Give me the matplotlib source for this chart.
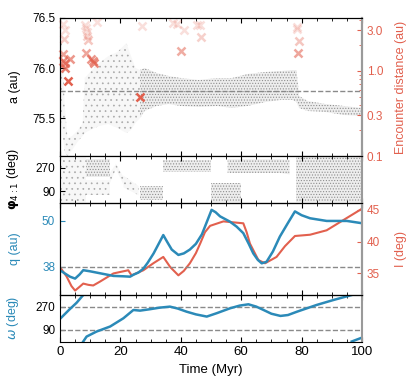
import matplotlib
matplotlib.use('Agg')
import matplotlib.pyplot as plt
from matplotlib.ticker import MultipleLocator, NullFormatter, FixedLocator
import numpy as np

plt.rcParams['font.family'] = ['Liberation Sans', 'DejaVu Sans']
plt.rcParams['hatch.linewidth'] = 0.5

blue = '#2b8ab8'
red = '#e2604e'
grey = '#8a8a8a'

#------------------------------
# data
#------------------------------

# semi-major axis cloud (envelope)
a_t  = [0, 0.8, 1.6, 2.5, 4, 6, 7.5, 8.2, 10, 13, 16, 19, 22, 23.5, 25, 26.5, 28, 32, 36, 40, 46, 52, 57, 62, 68, 73, 77, 78.3, 79.2, 82, 88, 94, 100]
a_lo = [75.75, 75.35, 75.15, 75.12, 75.18, 75.27, 75.32, 75.35, 75.38, 75.42, 75.44, 75.4, 75.35, 75.38, 75.45, 75.5, 75.57, 75.62, 75.64, 75.62, 75.61, 75.62, 75.6, 75.62, 75.66, 75.68, 75.68, 75.66, 75.6, 75.57, 75.56, 75.53, 75.52]
a_hi = [76.4, 76.2, 75.6, 75.3, 75.32, 75.38, 75.45, 75.9, 75.96, 76.05, 76.12, 76.16, 76.25, 76.12, 76.0, 75.98, 76.0, 75.95, 75.92, 75.9, 75.88, 75.9, 75.9, 75.94, 75.96, 75.97, 75.98, 75.98, 75.72, 75.67, 75.64, 75.62, 75.6]
a_res = 75.77
a_split = 26.5   # sparse scatter before, dense after

# close encounters
enc_t = [0.9, 1.6, 1.4, 0.9, 1.1, 1.6, 1.8, 3.3, 2.5, 8.3, 8.6, 8.8, 9.0, 9.3, 8.6, 10.4, 11.0, 11.4, 12.1,
         26.5, 27.3, 37.5, 38.6, 41.1, 40.0, 45.3, 46.4, 46.8, 78.4, 78.6, 79.1, 78.7]
enc_d = [3.6, 3.0, 2.4, 1.6, 1.3, 1.23, 1.09, 1.4, 0.76, 3.5, 3.2, 2.9, 2.6, 2.3, 1.62, 1.4, 1.32, 1.25, 3.8,
         0.49, 3.4, 3.7, 3.6, 3.0, 1.73, 3.5, 3.5, 2.5, 3.3, 3.1, 2.27, 1.62]

# resonant angle phi_4:1 regions (t, low, high, dense?)
phi_bands = [
    ([0, 8.5], [5, 5], [355, 355], False),
    ([8.5, 16.5], [200, 200], [335, 335], True),
    ([8.5, 16.5], [60, 60], [180, 180], False),
    ([16.5, 18.5, 21], [150, 260, 140], [230, 300, 200], False),
    ([21, 26], [120, 60], [210, 130], False),
    ([26.5, 34], [20, 20], [130, 130], True),
    ([34, 50], [235, 235], [330, 330], True),
    ([50, 60], [10, 10], [150, 150], True),
    ([55.5, 73, 76], [230, 230, 220], [335, 335, 330], True),
    ([78, 100], [5, 5], [355, 355], True),
]

# perihelion distance q
q_t = [0, 1.5, 3.3, 5, 6.5, 7.7, 10, 13.2, 17.7, 21, 23.2, 24.3, 26, 27.6, 29, 31, 33, 34.2, 35.5, 37, 39.2, 41, 43, 45, 47, 49, 50.2,
       51.5, 53, 56.3, 58.5, 60.7, 62.5, 64, 65.5, 66.8, 68.4, 70.5, 72.8, 75.5, 77.8, 80, 82.8, 88.3, 95, 100]
q_v = [37.1, 36.3, 35.4, 34.9, 36.0, 37.1, 36.8, 36.3, 35.6, 35.5, 35.4, 35.9, 36.5, 37.5, 39.0, 41.5, 44.5, 46.3, 44.5, 42.5, 41.1, 41.5, 42.5, 44.0, 46.5, 50.5, 52.9,
       52.3, 51.2, 49.8, 48.5, 46.8, 44.0, 41.5, 39.8, 38.9, 39.3, 42.0, 45.9, 49.5, 52.5, 51.5, 50.7, 50.0, 50.0, 49.4]
q_res = 38

# inclination I
i_t = [0, 2.2, 3.8, 5, 6.5, 7.7, 9.4, 11, 13.2, 17.7, 22.6, 23.7, 27.6, 30.9, 34.2, 36.5, 39.2, 41, 43, 45, 46.5, 48, 49.7, 54.1, 60.7,
       61.8, 62.9, 65.7, 67.9, 71.7, 74.5, 77.8, 82.8, 88.3, 93.8, 100]
i_v = [36.0, 34.5, 33.0, 32.3, 32.9, 33.4, 33.2, 33.1, 33.7, 35.0, 35.5, 34.7, 35.5, 36.6, 37.6, 36.0, 34.7, 35.4, 36.6, 38.2, 39.8, 41.5, 42.5, 43.2, 42.9,
       41.5, 39.7, 37.1, 36.6, 37.6, 39.3, 40.9, 41.1, 41.8, 43.4, 45.2]

# argument of perihelion (two branches, wraps at 360)
w_t1 = [0, 3, 5.5, 7.7]
w_v1 = [175, 245, 300, 360]
w_t2 = [7.7, 8.8, 12.1, 16.6, 21, 24.3, 26.5, 29.8, 33, 36.4, 39, 41.9, 45, 48.6, 52, 56.3, 59.5, 62.4, 65, 67.4, 70, 73, 75.5, 78.5, 85, 90.5, 96.6]
w_v2 = [0, 38, 77, 116, 180, 244, 239, 250, 262, 270, 255, 231, 210, 193, 220, 257, 278, 288, 270, 244, 215, 198, 205, 231, 283, 321, 360]
w_t3 = [96.6, 100]
w_v3 = [0, 30]

#------------------------------
# figure
#------------------------------

fig = plt.figure(figsize=(4.15, 3.89), dpi=100)
L, W = 60/415, 302/415
def rect(top, bot):
    return [L, (389-bot)/389, W, (bot-top)/389]

ax1 = fig.add_axes(rect(18, 156))
ax2 = fig.add_axes(rect(156, 203), sharex=ax1)
ax3 = fig.add_axes(rect(203, 295), sharex=ax1)
ax4 = fig.add_axes(rect(295, 341.5), sharex=ax1)

dense = dict(facecolor='#ededed', edgecolor='#8e8e8e', hatch='......', linewidth=0)
sparse = dict(facecolor='#f7f7f7', edgecolor='#aaaaaa', hatch='...', linewidth=0)

# panel 1
at = np.array(a_t)
ax1.fill_between(a_t, a_lo, a_hi, where=at <= a_split, **sparse)
ax1.fill_between(a_t, a_lo, a_hi, where=at >= a_split, **dense)
ax1.axhline(a_res, color=grey, ls='--', lw=1.0)
ax1.set_ylim(75.12, 76.5)
ax1.set_yticks([75.5, 76.0, 76.5])
ax1.set_ylabel('a (au)', fontsize=9)

ax1r = ax1.twinx()
ax1r.set_yscale('log')
ax1r.set_ylim(0.1, 4.2)
alph = np.clip((np.log10(4.0) - np.log10(enc_d)) / (np.log10(4.0) - np.log10(0.8)), 0.2, 1.0)
for t, d, al in zip(enc_t, enc_d, alph):
    ax1r.plot(t, d, 'x', color=red, ms=6, mew=1.8, alpha=al, clip_on=False)
ax1r.yaxis.set_major_locator(FixedLocator([0.1, 0.3, 1.0, 3.0]))
ax1r.set_yticklabels(['0.1', '0.3', '1.0', '3.0'])
ax1r.yaxis.set_minor_formatter(NullFormatter())
ax1r.tick_params(axis='y', which='both', colors=red, direction='in', labelsize=8.5)
ax1r.set_ylabel('Encounter distance (au)', color=red, fontsize=9)
ax1r.yaxis.set_label_coords(1.11, 0.5)

# panel 2
for bt, blo, bhi, dn in phi_bands:
    ax2.fill_between(bt, blo, bhi, **(dense if dn else sparse))
ax2.set_ylim(0, 360)
ax2.set_yticks([90, 270])
ax2.set_ylabel(r'$\boldsymbol{\varphi}_{4:1}$ (deg)', fontsize=9)

# panel 3
ax3.axhline(q_res, color=grey, ls='--', lw=1.0)
ax3.plot(q_t, q_v, color=blue, lw=1.8)
ax3.set_ylim(30.6, 54.7)
ax3.set_yticks([38, 50])
ax3.tick_params(axis='y', colors=blue)
ax3.set_ylabel('q (au)', color=blue, fontsize=9)

ax3r = ax3.twinx()
ax3r.plot(i_t, i_v, color=red, lw=1.5)
ax3r.set_ylim(31.6, 46.1)
ax3r.set_yticks([35, 40, 45])
ax3r.tick_params(axis='y', colors=red, direction='in', labelsize=8.5)
ax3r.set_ylabel('I (deg)', color=red, fontsize=9)
ax3r.yaxis.set_label_coords(1.11, 0.5)
ax3.set_zorder(ax3r.get_zorder() + 1)
ax3.patch.set_visible(False)

# panel 4
ax4.axhline(90, color=grey, ls='--', lw=1.0)
ax4.axhline(270, color=grey, ls='--', lw=1.0)
ax4.plot(w_t1, w_v1, color=blue, lw=1.8)
ax4.plot(w_t2, w_v2, color=blue, lw=1.8)
ax4.plot(w_t3, w_v3, color=blue, lw=1.8)
ax4.set_ylim(0, 360)
ax4.set_yticks([90, 270])
ax4.set_ylabel(r'$\omega$ (deg)', color=blue, fontsize=9)
ax4.set_xlim(0, 100)
ax4.set_xticks([0, 20, 40, 60, 80, 100])
ax4.xaxis.set_minor_locator(MultipleLocator(5))
ax4.set_xlabel('Time (Myr)', fontsize=9.5)

for ax in (ax1, ax2, ax3, ax4):
    ax.tick_params(axis='both', which='both', direction='in', top=True)
    ax.tick_params(axis='y', labelsize=8.5)
    ax.tick_params(axis='x', labelsize=9.5)
    ax.yaxis.set_label_coords(-0.13, 0.5)
    ax.spines['right'].set_color('#9a9a9a')
    ax.spines['right'].set_linewidth(1.5)
    if ax is not ax4:
        plt.setp(ax.get_xticklabels(), visible=False)
for axr in (ax1r, ax3r):
    axr.spines['right'].set_color('#9a9a9a')
    axr.spines['right'].set_linewidth(1.5)

fig.savefig('out.png', dpi=100)
